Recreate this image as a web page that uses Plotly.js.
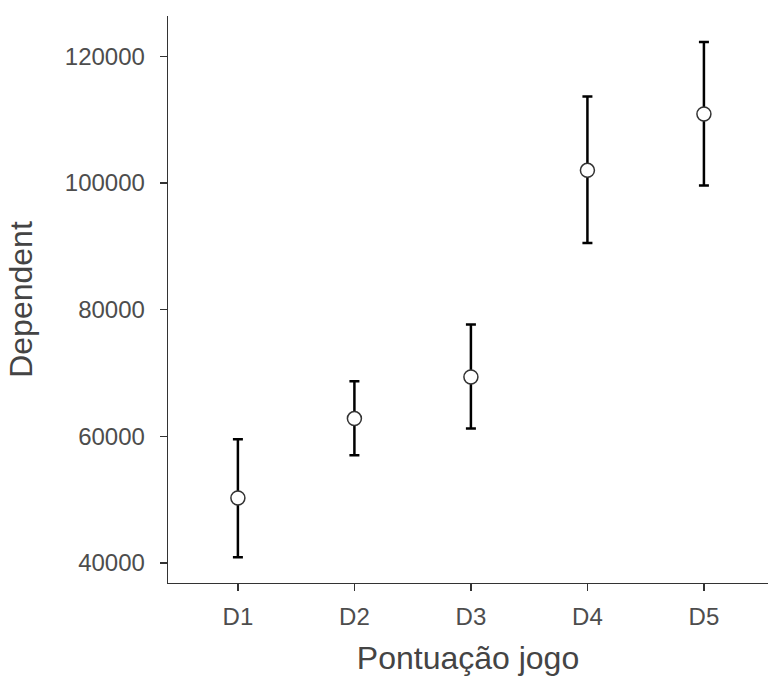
<!DOCTYPE html>
<html>
<head>
<meta charset="utf-8">
<script src="https://cdn.plot.ly/plotly-3.0.1.min.js"></script>
<style>html,body{margin:0;padding:0;background:#fff;}#chart{width:768px;height:679px;}</style>
</head>
<body>
<div id="chart"></div>
<script>
const categories = ["D1", "D2", "D3", "D4", "D5"];
const means = [50260, 62800, 69370, 102000, 110900];
const upperErr = [9270, 5890, 8270, 11640, 11370];
const lowerErr = [9360, 5795, 8150, 11480, 11310];
const yTickVals = [40000, 60000, 80000, 100000, 120000];
const yTickText = ["40000", "60000", "80000", "100000", "120000"];

const trace = {
  x: categories,
  y: means,
  type: "scatter",
  mode: "markers",
  marker: {size: 14, color: "#ffffff", line: {color: "#333333", width: 1.5}},
  error_y: {type: "data", symmetric: false, array: upperErr, arrayminus: lowerErr,
            color: "#000000", thickness: 2.5, width: 5},
  hoverinfo: "skip"
};

const font = "Arial, 'Liberation Sans', sans-serif";
const layout = {
  width: 768, height: 679,
  paper_bgcolor: "#ffffff", plot_bgcolor: "#ffffff",
  margin: {l: 168, r: 0, t: 16, b: 96},
  showlegend: false,
  font: {family: font, color: "#444444"},
  xaxis: {
    type: "category",
    range: [-0.6, 4.55],
    showline: true, linecolor: "#333333", linewidth: 1.3,
    ticks: "outside", ticklen: 7, tickwidth: 1.3, tickcolor: "#333333",
    ticklabelstandoff: 5,
    showgrid: false, zeroline: false,
    tickfont: {size: 24, color: "#4d4d4d", family: font},
    title: {text: "Pontuação jogo", font: {size: 32, color: "#444444", family: font}, standoff: 17}
  },
  yaxis: {
    range: [36840, 126370],
    tickvals: yTickVals, ticktext: yTickText,
    showline: true, linecolor: "#333333", linewidth: 1.3,
    ticks: "outside", ticklen: 7, tickwidth: 1.3, tickcolor: "#333333",
    ticklabelstandoff: 10,
    showgrid: false, zeroline: false,
    tickfont: {size: 24, color: "#4d4d4d", family: font},
    title: {text: "Dependent", font: {size: 32, color: "#444444", family: font}, standoff: 22}
  }
};

Plotly.newPlot("chart", [trace], layout, {displayModeBar: false, staticPlot: true});
</script>
</body>
</html>
